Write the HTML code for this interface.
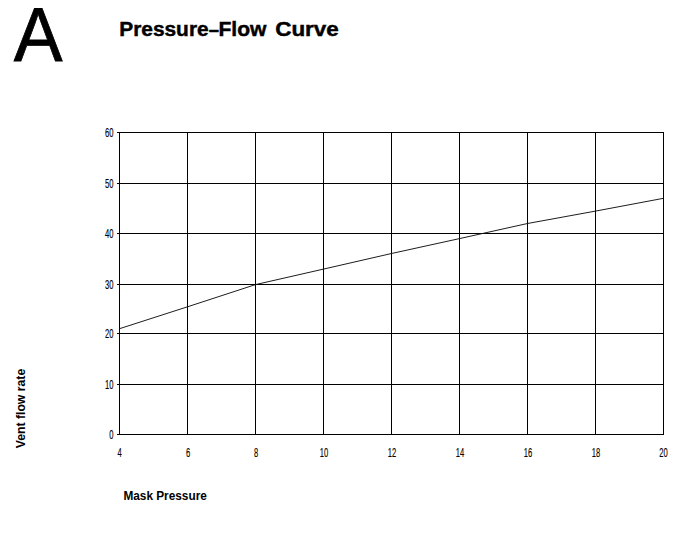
<!DOCTYPE html>
<html>
<head>
<meta charset="utf-8">
<title>Pressure–Flow Curve</title>
<style>
html,body{margin:0;padding:0;background:#fff;}
body{width:694px;height:541px;overflow:hidden;position:relative;font-family:"Liberation Sans",sans-serif;color:#000;}
svg{position:absolute;left:0;top:0;display:block;}
text{font-family:"Liberation Sans",sans-serif;fill:#000;}
.grid line{stroke:#000;stroke-width:1;shape-rendering:crispEdges;}
.tick{font-size:12.7px;stroke:#000;stroke-width:0.15px;}
</style>
</head>
<body>
<svg width="694" height="541" viewBox="0 0 694 541">
  <rect x="0" y="0" width="694" height="541" fill="#fff"/>
  <!-- big letter -->
  <text id="bigA" transform="translate(13.7,60.9) scale(0.962,1)" font-size="76" stroke="#000" stroke-width="0.8">A</text>
  <!-- title -->
  <g id="title" font-size="20.5" font-weight="bold" stroke="#000" stroke-width="0.45">
    <text transform="translate(119.2,35.7) scale(1.02,1)">Pressure</text>
    <text transform="translate(208.8,35.7) scale(0.9,1)">–</text>
    <text transform="translate(218.4,35.7) scale(1.03,1)">Flow</text>
    <text transform="translate(275.2,35.7) scale(1.095,1)">Curve</text>
  </g>

  <g class="grid">
    <!-- horizontal lines (with tick to the left) -->
    <line x1="117" x2="664" y1="132.5" y2="132.5"/>
    <line x1="117" x2="664" y1="183.5" y2="183.5"/>
    <line x1="117" x2="664" y1="233.5" y2="233.5"/>
    <line x1="117" x2="664" y1="284.5" y2="284.5"/>
    <line x1="117" x2="664" y1="333.5" y2="333.5"/>
    <line x1="117" x2="664" y1="384.5" y2="384.5"/>
    <line x1="117" x2="664" y1="434.5" y2="434.5"/>
    <!-- vertical lines -->
    <line y1="132" y2="435" x1="119.5" x2="119.5"/>
    <line y1="132" y2="435" x1="187.5" x2="187.5"/>
    <line y1="132" y2="435" x1="255.5" x2="255.5"/>
    <line y1="132" y2="435" x1="323.5" x2="323.5"/>
    <line y1="132" y2="435" x1="391.5" x2="391.5"/>
    <line y1="132" y2="435" x1="459.5" x2="459.5"/>
    <line y1="132" y2="435" x1="527.5" x2="527.5"/>
    <line y1="132" y2="435" x1="595.5" x2="595.5"/>
    <line y1="132" y2="435" x1="663.5" x2="663.5"/>
  </g>

  <!-- curve -->
  <polyline fill="none" stroke="#111" stroke-width="0.95"
    points="119.5,328.7 187.5,306.8 255.5,284.6 323.5,269.1 391.5,253.5 459.5,238.6 527.5,223.5 595.5,211.1 663.5,198.3"/>

  <!-- y tick labels (right aligned at x=113.3) -->
  <g class="tick" text-anchor="end">
    <text transform="translate(113.4,137) scale(0.6,1)">60</text>
    <text transform="translate(113.4,188) scale(0.6,1)">50</text>
    <text transform="translate(113.4,238) scale(0.6,1)">40</text>
    <text transform="translate(113.4,289) scale(0.6,1)">30</text>
    <text transform="translate(113.4,338) scale(0.6,1)">20</text>
    <text transform="translate(113.4,389) scale(0.6,1)">10</text>
    <text transform="translate(113.4,439) scale(0.6,1)">0</text>
  </g>
  <!-- x tick labels -->
  <g class="tick" text-anchor="middle">
    <text transform="translate(119.5,457.3) scale(0.6,1)">4</text>
    <text transform="translate(188,457.3) scale(0.6,1)">6</text>
    <text transform="translate(256,457.3) scale(0.6,1)">8</text>
    <text transform="translate(324,457.3) scale(0.6,1)">10</text>
    <text transform="translate(392,457.3) scale(0.6,1)">12</text>
    <text transform="translate(460,457.3) scale(0.6,1)">14</text>
    <text transform="translate(528,457.3) scale(0.6,1)">16</text>
    <text transform="translate(596,457.3) scale(0.6,1)">18</text>
    <text transform="translate(663.5,457.3) scale(0.6,1)">20</text>
  </g>

  <!-- axis titles -->
  <text id="xlabel" transform="translate(123.4,499.7) scale(0.985,1)" font-size="12" font-weight="bold">Mask Pressure</text>
  <text id="ylabel" transform="translate(24.9,448.3) rotate(-90) scale(0.9,1)" font-size="13.6" font-weight="bold">Vent flow rate</text>
</svg>
</body>
</html>
